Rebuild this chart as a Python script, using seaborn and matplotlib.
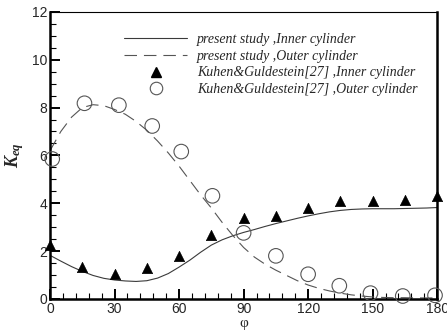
import matplotlib
matplotlib.use('Agg')
import matplotlib.pyplot as plt
import seaborn as sns
from matplotlib.lines import Line2D
from matplotlib.ticker import MultipleLocator

# --- data ---
phi_curve = [0, 5, 10, 15, 20, 25, 30, 35, 40, 45, 50, 55, 60, 65, 70, 75, 80, 85,
             90, 95, 100, 105, 110, 115, 120, 125, 130, 135, 140, 145, 150, 155,
             160, 165, 170, 175, 180]
k_inner_curve = [1.82, 1.58, 1.35, 1.15, 0.98, 0.86, 0.79, 0.75, 0.73, 0.76, 0.87,
                 1.06, 1.33, 1.62, 1.95, 2.25, 2.47, 2.64, 2.78, 2.90, 3.03, 3.15,
                 3.26, 3.37, 3.47, 3.56, 3.64, 3.70, 3.74, 3.76, 3.77, 3.77, 3.77,
                 3.78, 3.79, 3.80, 3.82]
k_outer_curve = [6.20, 7.00, 7.60, 8.00, 8.12, 8.08, 7.92, 7.72, 7.42, 7.05, 6.60,
                 6.10, 5.55, 4.95, 4.35, 3.80, 3.20, 2.65, 2.15, 1.75, 1.45, 1.20,
                 0.98, 0.76, 0.58, 0.44, 0.33, 0.24, 0.17, 0.12, 0.08, 0.06, 0.05,
                 0.05, 0.04, 0.04, 0.04]

phi_inner_exp = [0, 15, 30, 45, 60, 75, 90, 105, 120, 135, 150, 165, 180]
k_inner_exp = [2.25, 1.33, 1.05, 1.29, 1.81, 2.69, 3.37, 3.47, 3.79, 4.10, 4.10, 4.14, 4.31]

phi_outer_exp = [1, 16, 32, 47.5, 61, 75.5, 90, 105, 120, 134.5, 149, 164, 179]
k_outer_exp = [5.85, 8.18, 8.10, 7.23, 6.16, 4.31, 2.76, 1.80, 1.03, 0.55, 0.24, 0.12, 0.15]

labels = ['present study ,Inner cylinder',
          'present study ,Outer cylinder',
          'Kuhen&Guldestein[27] ,Inner cylinder',
          'Kuhen&Guldestein[27] ,Outer cylinder']

sns.set_style('ticks')
plt.rcParams['font.family'] = ['Liberation Sans', 'DejaVu Sans']
plt.rcParams['lines.scale_dashes'] = False
plt.rcParams['mathtext.fontset'] = 'custom'
plt.rcParams['mathtext.it'] = 'Liberation Serif:italic:bold'
plt.rcParams['mathtext.rm'] = 'Liberation Serif:bold'

fig = plt.figure(figsize=(4.47, 3.31), dpi=100)
ax = fig.add_axes([0.112, 0.097, 0.866, 0.867])

sns.lineplot(x=phi_curve, y=k_inner_curve, ax=ax, color='#3a3a3a', lw=0.8,
             sort=False)
sns.lineplot(x=phi_curve, y=k_outer_curve, ax=ax, color='#555555', lw=0.8,
             sort=False)
ax.lines[1].set_dashes((9, 5))

sns.scatterplot(x=phi_inner_exp, y=k_inner_exp, ax=ax, marker='^', s=55,
                color='black', edgecolor='black', linewidth=0.5, clip_on=False,
                zorder=5)
sns.scatterplot(x=phi_outer_exp, y=k_outer_exp, ax=ax, marker='o', s=110,
                facecolor='none', edgecolor='#555555', linewidth=0.8,
                clip_on=False, zorder=5)

ax.set_xlim(0, 180)
ax.set_ylim(0, 12)
ax.xaxis.set_major_locator(MultipleLocator(30))
ax.xaxis.set_minor_locator(MultipleLocator(6))
ax.yaxis.set_major_locator(MultipleLocator(2))
ax.yaxis.set_minor_locator(MultipleLocator(0.5))
ax.tick_params(which='major', direction='in', length=7, width=1.4, labelsize=10,
               pad=2, color='black')
ax.tick_params(which='minor', direction='in', length=4, width=0.8, color='black')

for side in ['left', 'bottom', 'right']:
    ax.spines[side].set_linewidth(1.8)
ax.spines['top'].set_linewidth(0.8)
for sp in ax.spines.values():
    sp.set_color('black')

ax.set_xlabel('φ', fontsize=11, family=['Liberation Serif', 'DejaVu Serif'],
              labelpad=1)
ax.set_ylabel(r'$K_{eq}$', fontsize=13, labelpad=4)

handles = [
    Line2D([], [], color='#3a3a3a', lw=0.8),
    Line2D([], [], color='#555555', lw=0.8, dashes=(9, 5)),
    Line2D([], [], color='black', marker='^', ls='none', markersize=6.5),
    Line2D([], [], color='#555555', marker='o', ls='none', markersize=9,
           markerfacecolor='none', markeredgewidth=0.8),
]
ax.legend(handles, labels, loc='upper left', bbox_to_anchor=(0.172, 0.952),
          frameon=False, borderpad=0, handlelength=4.6, handletextpad=0.7,
          labelspacing=0.28,
          prop={'family': ['Liberation Serif'], 'style': 'italic', 'size': 10})

fig.savefig('out.png', dpi=100)
